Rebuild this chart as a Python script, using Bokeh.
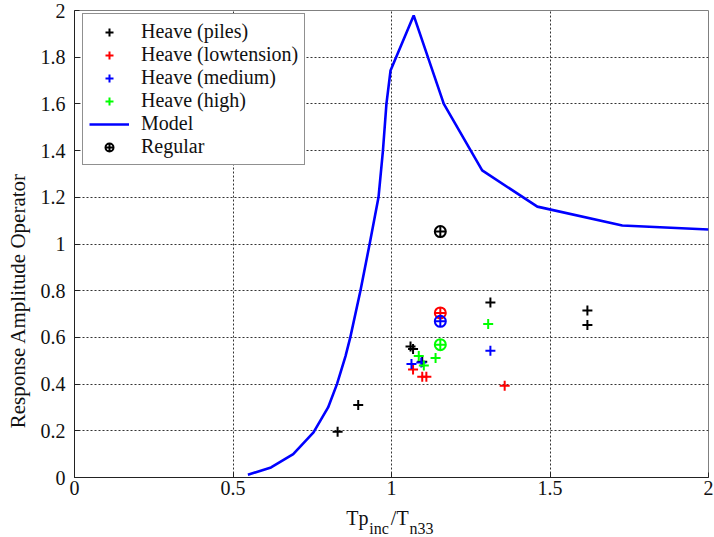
import math
from bokeh.plotting import figure
from bokeh.layouts import column
from bokeh.models import FixedTicker, Label, Legend, LegendItem, Range1d
from bokeh.core.properties import value
from bokeh.embed import file_html
from bokeh.resources import INLINE

# ---- data ----
model_x = [0.547, 0.62, 0.69, 0.754, 0.80, 0.828, 0.855, 0.87, 0.902, 0.931,
           0.959, 0.973, 0.984, 0.997, 1.070, 1.165, 1.286, 1.46, 1.728, 2.0]
model_y = [0.012, 0.043, 0.10, 0.193, 0.30, 0.40, 0.52, 0.60, 0.80, 1.0,
           1.2, 1.4, 1.6, 1.743, 1.979, 1.60, 1.315, 1.16, 1.079, 1.062]

piles_x = [0.830, 0.895, 1.060, 1.068, 1.097, 1.312, 1.618, 1.618]
piles_y = [0.196, 0.310, 0.561, 0.550, 0.496, 0.750, 0.715, 0.653]

low_x = [1.068, 1.097, 1.110, 1.357]
low_y = [0.462, 0.432, 0.432, 0.393]

med_x = [1.063, 1.094, 1.312]
med_y = [0.486, 0.493, 0.543]

high_x = [1.086, 1.102, 1.139, 1.305]
high_y = [0.520, 0.480, 0.512, 0.657]

reg_x = [1.154]
reg_y = [1.053]
reg_low_x = [1.154]
reg_low_y = [0.705]
reg_med_x = [1.154]
reg_med_y = [0.669]
reg_high_x = [1.154]
reg_high_y = [0.569]

x_ticks = [0, 0.5, 1, 1.5, 2]
x_tick_labels = ["0", "0.5", "1", "1.5", "2"]
y_ticks = [0, 0.2, 0.4, 0.6, 0.8, 1.0, 1.2, 1.4, 1.6, 1.8, 2.0]
y_tick_labels = ["0", "0.2", "0.4", "0.6", "0.8", "1", "1.2", "1.4", "1.6", "1.8", "2"]

# x-axis title pieces: "Tp" + sub "inc" + "/T" + sub "n33"
xlabel_main = ["Tp", "/T"]
xlabel_sub = ["inc", "n33"]

FONT = "Liberation Serif"
BLACK = "#000000"
RED = "#ff0000"
BLUE = "#0000ff"
GREEN = "#00ff00"

p = figure(width=714, height=504, output_backend="svg", toolbar_location=None,
           x_range=Range1d(0, 2), y_range=Range1d(0, 2),
           min_border_left=74, min_border_right=6, min_border_top=10, min_border_bottom=27)
p.background_fill_color = "white"
p.border_fill_color = "white"
p.outline_line_color = "#808080"
p.outline_line_width = 1

for ax, ticks, labels in ((p.xaxis[0], x_ticks, x_tick_labels), (p.yaxis[0], y_ticks, y_tick_labels)):
    ax.ticker = FixedTicker(ticks=ticks)
    ax.major_label_overrides = {t: l for t, l in zip(ticks, labels)}
    ax.minor_tick_line_color = None
    ax.major_tick_in = 5
    ax.major_tick_out = 0
    ax.axis_line_color = "#222222"
    ax.major_tick_line_color = "#222222"
    ax.major_label_text_font = FONT
    ax.major_label_text_font_size = "20px"
    ax.major_label_text_color = "#111111"
p.xaxis.major_label_standoff = 3
p.yaxis.major_label_standoff = 9

for g in (p.xgrid[0], p.ygrid[0]):
    g.grid_line_color = "#333333"
    g.grid_line_dash = "2 2"
    g.grid_line_width = 1
p.xgrid.ticker = FixedTicker(ticks=x_ticks)
p.ygrid.ticker = FixedTicker(ticks=y_ticks)

r_model = p.line(model_x, model_y, line_color=BLUE, line_width=2.6)

r_piles = p.scatter(piles_x, piles_y, marker="cross", size=10, line_width=2, line_color=BLACK)
r_low = p.scatter(low_x, low_y, marker="cross", size=10, line_width=2, line_color=RED)
r_med = p.scatter(med_x, med_y, marker="cross", size=10, line_width=2, line_color=BLUE)
r_high = p.scatter(high_x, high_y, marker="cross", size=10, line_width=2, line_color=GREEN)

r_reg = p.scatter(reg_x, reg_y, marker="circle_cross", size=11, line_width=2,
                  line_color=BLACK, fill_color=None)
p.scatter(reg_low_x, reg_low_y, marker="circle_cross", size=11, line_width=2, line_color=RED, fill_color=None)
p.scatter(reg_med_x, reg_med_y, marker="circle_cross", size=11, line_width=2, line_color=BLUE, fill_color=None)
p.scatter(reg_high_x, reg_high_y, marker="circle_cross", size=11, line_width=2, line_color=GREEN, fill_color=None)

legend = Legend(items=[
    LegendItem(label="Heave (piles)", renderers=[r_piles]),
    LegendItem(label="Heave (lowtension)", renderers=[r_low]),
    LegendItem(label="Heave (medium)", renderers=[r_med]),
    LegendItem(label="Heave (high)", renderers=[r_high]),
    LegendItem(label="Model", renderers=[r_model]),
    LegendItem(label="Regular", renderers=[r_reg]),
], location=(8, 312))
legend.label_text_font = FONT
legend.label_text_font_size = "20px"
legend.label_text_color = "#111111"
legend.glyph_width = 40
legend.glyph_height = 20
legend.label_height = 20
legend.label_standoff = 12
legend.spacing = 0
legend.padding = 6
legend.border_line_color = "#222222"
legend.border_line_width = 1
legend.background_fill_color = "white"
legend.background_fill_alpha = 1.0
p.add_layout(legend, "center")

# y-axis title (data units, in the left side panel so it is not clipped)
p.add_layout(Label(x=-0.1767, y=0.758,
                   text="Response Amplitude Operator", angle=math.pi / 2,
                   text_font=FONT, text_font_size="21px", text_color="#111111",
                   text_align="center", text_baseline="middle"), "left")

# strip below the plot holding the x-axis title with subscripts
p2 = figure(width=714, height=33, output_backend="svg", toolbar_location=None,
            x_range=p.x_range, y_range=Range1d(0, 33),
            x_axis_type=None, y_axis_type=None,
            min_border_left=74, min_border_right=6, min_border_top=0, min_border_bottom=0)
p2.grid.visible = False
p2.outline_line_color = None
p2.background_fill_color = "white"
p2.border_fill_color = "white"
p2.text(x=[0.857, 0.998], y=[20, 20], text=xlabel_main,
        text_font=value(FONT), text_font_size="20px", text_color="#111111",
        text_align="left", text_baseline="alphabetic")
p2.text(x=[0.930, 1.057], y=[9, 9], text=xlabel_sub,
        text_font=value(FONT), text_font_size="16px", text_color="#111111",
        text_align="left", text_baseline="alphabetic")

layout = column(p, p2, spacing=0)
open("out.html", "w").write(file_html(layout, INLINE))
